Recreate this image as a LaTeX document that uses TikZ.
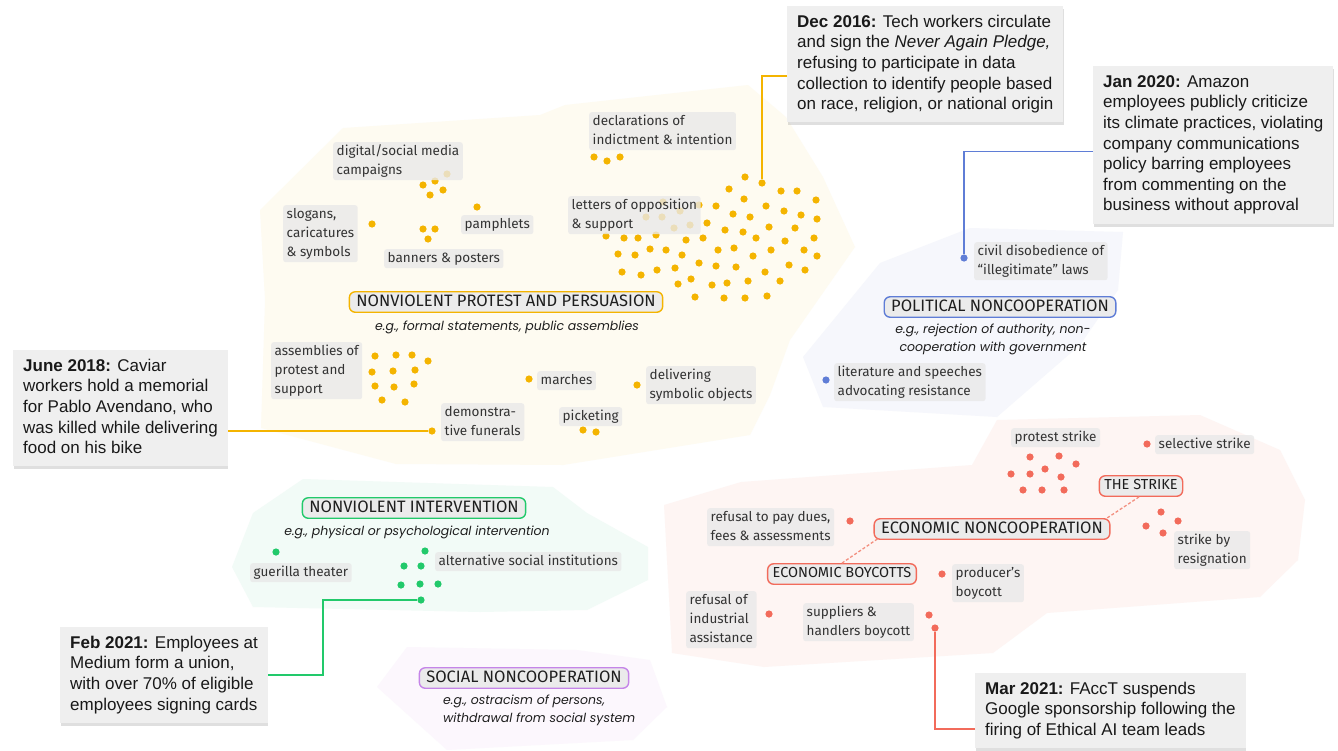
\documentclass[tikz,border=0pt]{standalone}
\usepackage{fontspec}
\setmainfont{Fira Sans}
\newfontfamily\calfont{Liberation Sans}
\newfontfamily\subfont{Poppins}
\usetikzlibrary{shadows}
\definecolor{ydot}{HTML}{F4B400}
\definecolor{bdot}{HTML}{5F7DD6}
\definecolor{gdot}{HTML}{22C96B}
\definecolor{rdot}{HTML}{F26B5B}
\definecolor{pdot}{HTML}{C585E8}
\definecolor{yblob}{HTML}{FEFBF1}
\definecolor{bblob}{HTML}{F6F7FC}
\definecolor{gblob}{HTML}{F2FBF7}
\definecolor{rblob}{HTML}{FEF5F3}
\definecolor{pblob}{HTML}{FCF7FD}
\definecolor{lblfill}{HTML}{E9E9E9}
\definecolor{lbltext}{HTML}{333333}
\definecolor{catfill}{HTML}{EBEBEB}
\definecolor{cattext}{HTML}{1E1E1E}
\definecolor{calfill}{HTML}{EFEFEF}
\definecolor{rdash}{HTML}{F39080}
\tikzset{
  lbl/.style={anchor=north west, fill=lblfill, fill opacity=0.8, text opacity=1,
    rounded corners=2.5pt, inner xsep=3.5pt, inner ysep=0pt, align=left, text=lbltext,
    font=\fontsize{13.5}{19}\selectfont},
  cat/.style={draw=#1, line width=1.4pt, fill=catfill, rounded corners=6pt,
    inner xsep=7pt, inner ysep=2.5pt, text=cattext, text height=12pt, text depth=3.5pt,
    font=\fontsize{16.5}{19}\selectfont},
  smallcat/.style={draw=#1, line width=1.4pt, fill=catfill, rounded corners=6pt,
    inner xsep=5pt, inner ysep=3.5pt, text=cattext, text height=10.5pt, text depth=3pt,
    font=\fontsize{14.5}{17}\selectfont},
  subt/.style={text=cattext, align=center, inner sep=0pt,
    font=\subfont\itshape\fontsize{12.5}{18}\selectfont},
  callout/.style={anchor=north west, fill=calfill, align=left, inner xsep=10pt,
    inner ysep=6.6pt, text=black!90,
    drop shadow={shadow xshift=0.5pt, shadow yshift=-3pt, opacity=0.25},
    font=\calfont\fontsize{17}{20.6}\selectfont},
  cdot/.style={circle, inner sep=0pt, minimum size=7.2pt, fill=#1},
  conn/.style={draw=#1, line width=1.6pt},
  dashconn/.style={draw=rdash, line width=1.3pt, dash pattern=on 3pt off 2pt},
}
\begin{document}
\begin{tikzpicture}[x=1pt,y=-1pt]
\useasboundingbox (0,0) rectangle (1338,750);
\fill[white] (0,0) rectangle (1338,750);

% ---------- blobs ----------
\fill[yblob] (343,128) -- (540,115) -- (565,105) -- (748,85) -- (786,117) -- (823,177)
  -- (855,247) -- (790,340) -- (770,395) -- (750,435) -- (563,465) -- (396,464)
  -- (261,428) -- (265,300) -- (260,210) -- cycle;
\fill[bblob] (880,263) -- (970,228) -- (1123,232) -- (1118,290) -- (1080,345)
  -- (997,417) -- (823,407) -- (803,357) -- cycle;
\fill[rblob] (664,505) -- (741,482) -- (972,465) -- (997,420) -- (1200,415)
  -- (1280,450) -- (1305,500) -- (1298,560) -- (1260,597) -- (1047,613) -- (993,653)
  -- (764,667) -- (672,653) -- cycle;
\fill[gblob] (303,479) -- (553,487) -- (587,513) -- (648,547) -- (648,580)
  -- (587,610) -- (480,612) -- (253,607) -- (232,567) -- (253,513) -- cycle;
\fill[pblob] (407,647) -- (577,650) -- (650,660) -- (667,707) -- (633,740)
  -- (447,750) -- (377,687) -- cycle;

% ---------- connector end dots ----------
\node[cdot=ydot] (ddec) at (762,183) {};
\node[cdot=bdot] (djan) at (964,258) {};
\node[cdot=ydot] (djun) at (432,431) {};
\node[cdot=gdot] (dfeb) at (421,600) {};
\node[cdot=rdot] (dmar) at (935,628) {};

% ---------- dots ----------
\foreach \x/\y in {745/177,729/189,781/191,797/191,744/199,716/206,766/206,816/200,
  784/211,733/214,750/217,801/215,817/219,707/223,769/227,795/228,725/230,743/232,
  606/236,624/238,638/238,656/235,686/240,703/238,756/238,785/241,814/238,
  618/254,635/255,650/249,666/250,682/255,718/250,734/248,771/250,804/250,817/256,753/256,
  622/272,641/275,657/270,675/268,699/263,716/266,736/267,789/265,805/270,765/272,
  678/284,691/279,712/285,727/283,748/281,780/281,695/297,724/298,745/298,767/296,
  663/202,680/211,699/205,646/217,662/217,674/228,690/225,
  594/157,607/161,620/157,
  447/174,423/185,435/181,443/190,430/195,
  372/224,477/207,423/229,435/229,428/239,
  375/356,396/355,412/355,428/361,372/372,393/371,415/370,375/386,394/387,414/384,
  382/400,405/402,529/379,637/385,583/430,596/432}
  \fill[ydot] (\x,\y) circle (3.6pt);
\fill[bdot] (826,380) circle (3.6pt);
\foreach \x/\y in {276/552,425/551,404/566,421/566,401/585,420/584,438/584}
  \fill[gdot] (\x,\y) circle (3.6pt);
\foreach \x/\y in {1030/457,1059/456,1076/464,1011/474,1030/474,1045/469,1061/477,
  1023/490,1042/490,1064/490,1147/444,1161/512,1178/521,1146/526,1163/533,
  850/521,942/574,769/614,929/615}
  \fill[rdot] (\x,\y) circle (3.6pt);

% ---------- item labels ----------
\node[lbl] (decl) at (589,112) {\strut declarations of\\\strut indictment \& intention};
\node[lbl] (digi) at (333,142) {\strut digital/social media\\\strut campaigns};
\node[lbl] (slog) at (283,205) {\strut slogans,\\\strut caricatures\\\strut \& symbols};
\node[lbl] (pamp) at (461,215) {\strut pamphlets};
\node[lbl] (lett) at (568,196) {\strut letters of opposition\\\strut \& support};
\node[lbl] (bann) at (384,249) {\strut banners \& posters};
\node[lbl] (asse) at (271,342) {\strut assemblies of\\\strut protest and\\\strut support};
\node[lbl] (marc) at (537,371) {\strut marches};
\node[lbl] (deli) at (646,366) {\strut delivering\\\strut symbolic objects};
\node[lbl] (demo) at (441,403) {\strut demonstra-\\\strut tive funerals};
\node[lbl] (pick) at (559,407) {\strut picketing};

\node[lbl] (civi) at (974,242) {\strut civil disobedience of\\\strut “illegitimate” laws};
\node[lbl] (lite) at (834,363) {\strut literature and speeches\\\strut advocating resistance};

\node[lbl] (guer) at (250,563) {\strut guerilla theater};
\node[lbl] (alte) at (435,552) {\strut alternative social institutions};

\node[lbl] (prot) at (1011,428) {\strut protest strike};
\node[lbl] (sele) at (1155,435) {\strut selective strike};
\node[lbl] (refd) at (707,508) {\strut refusal to pay dues,\\\strut fees \& assessments};
\node[lbl] (stri) at (1174,531) {\strut strike by\\\strut resignation};
\node[lbl] (prod) at (952,564) {\strut producer’s\\\strut boycott};
\node[lbl] (refi) at (686,591) {\strut refusal of\\\strut industrial\\\strut assistance};
\node[lbl] (supp) at (803,603) {\strut suppliers \&\\\strut handlers boycott};

% ---------- category titles ----------
\node[cat=ydot] (npp) at (506,302) {NONVIOLENT PROTEST AND PERSUASION};
\node[subt] (npps) at (507,327) {e.g., formal statements, public assemblies};
\node[cat=bdot] (pol) at (1000,307) {POLITICAL NONCOOPERATION};
\node[subt] (pols) at (993,339) {e.g., rejection of authority, non-\\cooperation with government};
\node[cat=gdot] (nvi) at (414,508) {NONVIOLENT INTERVENTION};
\node[subt] (nvis) at (417,532) {e.g., physical or psychological intervention};
\node[cat=pdot] (soc) at (524,678) {SOCIAL NONCOOPERATION};
\node[subt, align=left, anchor=west] (socs) at (443,710) {e.g., ostracism of persons,\\withdrawal from social system};
\node[cat=rdot] (eco) at (992,529) {ECONOMIC NONCOOPERATION};
\node[smallcat=rdot] (str) at (1141,486) {THE STRIKE};
\node[smallcat=rdot] (boy) at (842,574) {ECONOMIC BOYCOTTS};

\draw[dashconn] ([xshift=-2pt]str.south) -- ([xshift=-5pt,yshift=-1pt]eco.north east);
\draw[dashconn] ([xshift=4pt,yshift=1pt]eco.south west) -- (boy.north);

% ---------- callouts ----------
\node[callout] (dec) at (787,6) {\strut\textbf{Dec 2016:} Tech workers circulate\\\strut and sign the \textit{Never Again Pledge,}\\\strut refusing to participate in data\\\strut collection to identify people based\\\strut on race, religion, or national origin};
\node[callout] (jan) at (1093,66) {\strut\textbf{Jan 2020:} Amazon\\\strut employees publicly criticize\\\strut its climate practices, violating\\\strut company communications\\\strut policy barring employees\\\strut from commenting on the\\\strut business without approval};
\node[callout] (jun) at (13,350) {\strut\textbf{June 2018:} Caviar\\\strut workers hold a memorial\\\strut for Pablo Avendano, who\\\strut was killed while delivering\\\strut food on his bike};
\node[callout] (feb) at (60,627) {\strut\textbf{Feb 2021:} Employees at\\\strut Medium form a union,\\\strut with over 70\% of eligible\\\strut employees signing cards};
\node[callout] (mar) at (975,673) {\strut\textbf{Mar 2021:} FAccT suspends\\\strut Google sponsorship following the\\\strut firing of Ethical AI team leads};

% ---------- connectors ----------
\draw[conn=ydot] ([yshift=-11.5pt]dec.west) -| (ddec);
\draw[conn=bdot] ([yshift=-6.5pt]jan.west) -| (djan);
\draw[conn=ydot] (jun.east |- djun) -- (djun);
\draw[conn=gdot] (feb.east) -- ++(55,0) |- (dfeb);
\draw[conn=rdot] ([yshift=-18pt]mar.west) -| (dmar);
\end{tikzpicture}
\end{document}
